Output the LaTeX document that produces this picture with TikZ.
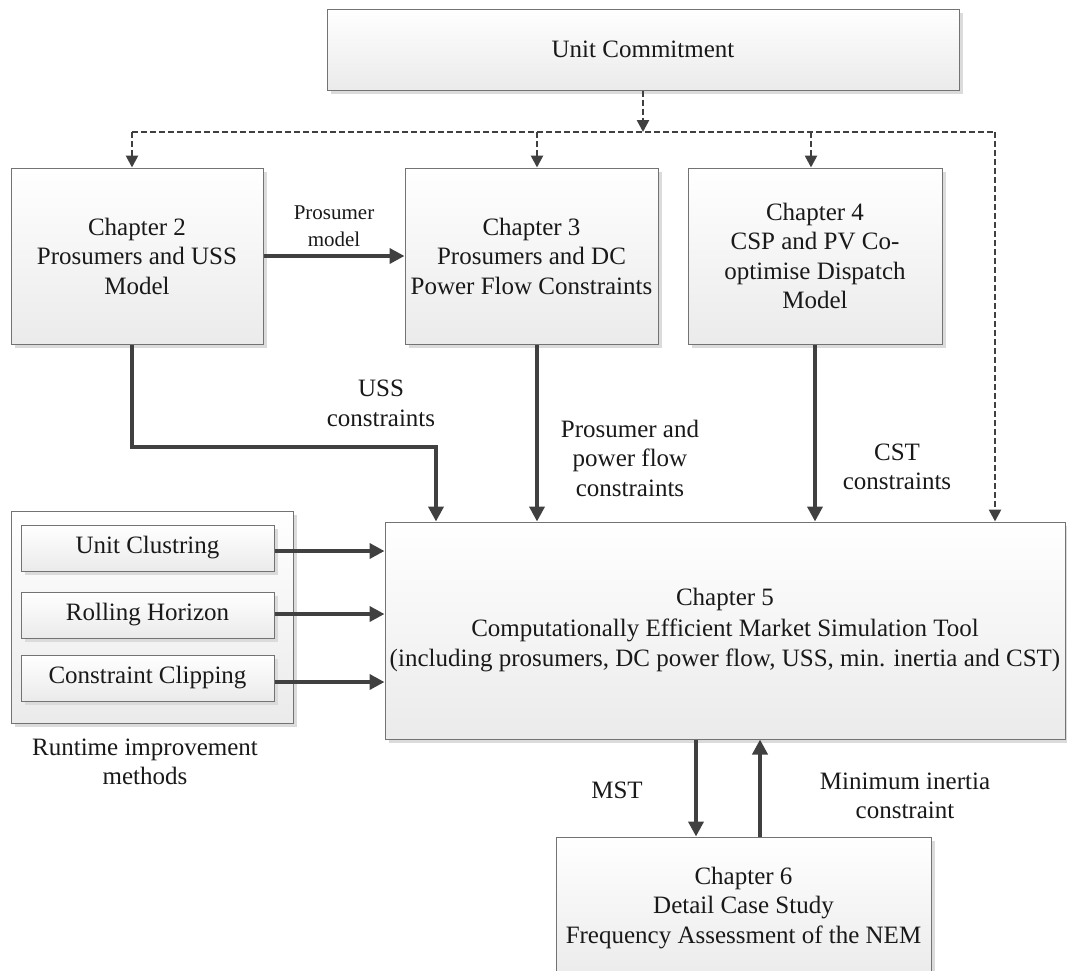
\documentclass[tikz,border=0pt]{standalone}
\usepackage{fontspec}
\setmainfont{Liberation Serif}
\usetikzlibrary{arrows.meta,shadows}

\tikzset{
  box/.style={draw=black!55, line width=1pt, top color=white, bottom color=black!8,
    drop shadow={shadow xshift=3.5pt, shadow yshift=-3.5pt, fill=black!14, opacity=1},
    align=center, inner sep=0pt, text=black!90},
  lbl/.style={align=center, inner sep=0pt, text=black!90},
  flow/.style={draw=black!75, line width=4pt,
    -{Triangle[length=15pt,width=15pt]}},
  dashline/.style={draw=black!75, line width=2.6pt, dash pattern=on 6pt off 3pt},
  dasharrow/.style={dashline, -{Triangle[length=12pt,width=12pt]}},
}

\begin{document}
\begin{tikzpicture}[x=1pt,y=-1pt, font=\fontsize{25}{29.5}\selectfont]
\useasboundingbox (0,0) rectangle (1067,970);
\clip (0,0) rectangle (1067,970);

% top box
\node[box, minimum width=632pt, minimum height=81pt] (uc) at (643,49.5) {Unit Commitment};

% chapter boxes
\node[box, minimum width=252pt, minimum height=176pt] (c2) at (137,256)
  {Chapter 2\\Prosumers and USS\\Model};
\node[box, minimum width=253pt, minimum height=176pt] (c3) at (531.5,256)
  {Chapter 3\\Prosumers and DC\\Power Flow Constraints};
\node[box, minimum width=254pt, minimum height=176pt] (c4) at (815,256)
  {Chapter 4\\CSP and PV Co-\\optimise Dispatch\\Model};
\node[box, minimum width=680pt, minimum height=217pt, font=\fontsize{25}{30.5}\selectfont] (c5) at (725,630.5)
  {Chapter 5\\Computationally Efficient Market Simulation Tool\\(including prosumers, DC power flow, USS, min. inertia and CST)};
\node[box, minimum width=375pt, minimum height=142pt] (c6) at (743.5,908)
  {Chapter 6\\Detail Case Study\\Frequency Assessment of the NEM};

% runtime improvement group
\node[box, minimum width=282pt, minimum height=212pt] (rt) at (152,617) {};
\node[box, minimum width=253pt, minimum height=46pt] (m1) at (147.5,548) {Unit Clustring};
\node[box, minimum width=253pt, minimum height=46pt] (m2) at (147.5,615) {Rolling Horizon};
\node[box, minimum width=253pt, minimum height=46pt] (m3) at (147.5,678) {Constraint Clipping};
\node[lbl] (rtl) at (145,762) {Runtime improvement\\methods};

% dashed distribution from unit commitment
\coordinate (hub) at (643,132);
\coordinate (d2) at (132,132);
\coordinate (d3) at (537,132);
\coordinate (d4) at (811,132);
\coordinate (d5) at (995,132);
\draw[dashline] (d2) -- (d5);
\draw[dasharrow] (uc.south) -- (hub);
\draw[dasharrow] (d2) -- (d2 |- c2.north);
\draw[dasharrow] (d3) -- (d3 |- c3.north);
\draw[dasharrow] (d4) -- (d4 |- c4.north);
\draw[dasharrow] (d5) -- (d5 |- c5.north);

% chapter 2 to chapter 3
\draw[flow] (c2.east) -- (c3.west);
\node[lbl, font=\fontsize{21}{27}\selectfont] (pm) at (334,226.5) {Prosumer\\model};

% constraints into chapter 5
\coordinate (k1) at (436,447);
\draw[flow] (c2.south -| d2) |- (k1) -- (k1 |- c5.north);
\draw[flow] (c3.south -| d3) -- (c5.north -| d3);
\draw[flow] (c4.south) -- (c4.south |- c5.north);
\node[lbl] (ussl) at (381,403.5) {USS\\constraints};
\node[lbl] (pfl) at (630,458) {Prosumer and\\power flow\\constraints};
\node[lbl] (cstl) at (897,467) {CST\\constraints};

% runtime methods into chapter 5
\draw[flow] (m1.east |- 0,551) -- (c5.west |- 0,551);
\draw[flow] (m2.east |- 0,614) -- (c5.west |- 0,614);
\draw[flow] (m3.east |- 0,682) -- (c5.west |- 0,682);

% chapter 5 and chapter 6 exchange
\coordinate (x1) at (696,0);
\coordinate (x2) at (760,0);
\draw[flow] (c5.south -| x1) -- (c6.north -| x1);
\draw[flow] (c6.north -| x2) -- (c5.south -| x2);
\node[lbl] (mst) at (617,790) {MST};
\node[lbl] (mic) at (905,796) {Minimum inertia\\constraint};
\end{tikzpicture}
\end{document}
